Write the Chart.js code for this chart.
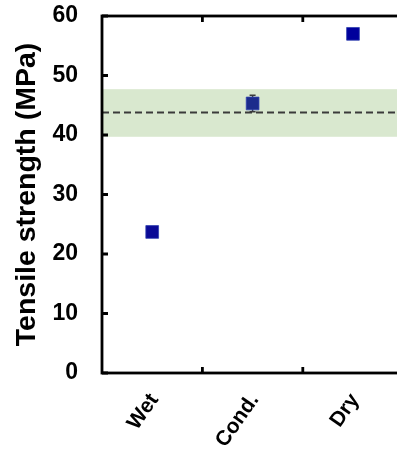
<!DOCTYPE html>
<html>
<head>
<meta charset="utf-8">
<script src="https://cdn.jsdelivr.net/npm/chart.js@4/dist/chart.umd.min.js"></script>
<style>
html,body{margin:0;padding:0;background:#fff;overflow:hidden;width:397px;height:455px;}
#wrap{position:absolute;left:0;top:0;width:413px;height:455px;}
</style>
</head>
<body>
<div id="wrap"><canvas id="c" width="413" height="455"></canvas></div>
<script>
// Data
const categories = ['Wet', 'Cond.', 'Dry'];
const strength = [23.7, 45.3, 57.0];
const strengthErr = [0.5, 1.4, 0.5];
const pointColors = ['#0a0a96', '#1c2b8c', '#00009c'];
const bandRange = [39.7, 47.7];
const refLine = [43.8];
const yTicks = [0, 10, 20, 30, 40, 50, 60];

const framePlugin = {
  id: 'frame',
  beforeDatasetsDraw(chart) {
    const {ctx, chartArea: a, scales: {y}} = chart;
    ctx.save();
    const yTop = y.getPixelForValue(bandRange[1]);
    const yBot = y.getPixelForValue(bandRange[0]);
    ctx.fillStyle = '#d9e8cf';
    ctx.fillRect(a.left, yTop, a.right - a.left, yBot - yTop);
    ctx.strokeStyle = '#3a3a3a';
    ctx.lineWidth = 2;
    ctx.setLineDash([7, 4]);
    const yl = y.getPixelForValue(refLine[0]);
    ctx.beginPath();
    ctx.moveTo(a.left, yl);
    ctx.lineTo(a.right, yl);
    ctx.stroke();
    ctx.setLineDash([]);
    const meta = chart.getDatasetMeta(0);
    ctx.strokeStyle = '#3a3a3a';
    ctx.lineWidth = 1.5;
    meta.data.forEach((pt, i) => {
      const yh = y.getPixelForValue(strength[i] + strengthErr[i]);
      const ylo = y.getPixelForValue(strength[i] - strengthErr[i]);
      ctx.beginPath();
      ctx.moveTo(pt.x, yh); ctx.lineTo(pt.x, ylo);
      ctx.moveTo(pt.x - 3, yh); ctx.lineTo(pt.x + 3, yh);
      ctx.moveTo(pt.x - 3, ylo); ctx.lineTo(pt.x + 3, ylo);
      ctx.stroke();
    });
    ctx.restore();
  },
  afterDraw(chart) {
    const {ctx, chartArea: a, scales: {x, y}} = chart;
    ctx.save();
    ctx.strokeStyle = '#000';
    ctx.lineWidth = 2.8;
    ctx.strokeRect(a.left, a.top, a.right - a.left, a.bottom - a.top);
    const tl = 6;
    ctx.beginPath();
    yTicks.forEach(v => {
      const py = y.getPixelForValue(v);
      ctx.moveTo(a.left, py); ctx.lineTo(a.left + tl, py);
      ctx.moveTo(a.right, py); ctx.lineTo(a.right - tl, py);
    });
    for (let i = 1; i < categories.length; i++) {
      const px = (x.getPixelForValue(i - 1) + x.getPixelForValue(i)) / 2;
      ctx.moveTo(px, a.bottom); ctx.lineTo(px, a.bottom - tl);
      ctx.moveTo(px, a.top); ctx.lineTo(px, a.top + tl);
    }
    ctx.stroke();
    ctx.restore();
  }
};

new Chart(document.getElementById('c'), {
  type: 'line',
  data: {
    labels: categories,
    datasets: [{
      data: strength,
      showLine: false,
      pointStyle: 'rect',
      pointRadius: 9,
      pointHoverRadius: 9,
      pointBackgroundColor: pointColors,
      pointBorderColor: '#3040b0',
      pointBorderWidth: 0.8
    }]
  },
  options: {
    responsive: false,
    animation: false,
    events: [],
    layout: {padding: {top: 16, right: 0, left: 0, bottom: 0}},
    plugins: {legend: {display: false}, tooltip: {enabled: false}},
    scales: {
      x: {
        type: 'category',
        offset: true,
        grid: {display: false, drawTicks: false},
        border: {display: false},
        ticks: {
          minRotation: 55, maxRotation: 55,
          padding: 16,
          labelOffset: 2,
          color: '#000',
          font: {family: 'Liberation Sans, Arial, sans-serif', size: 21, weight: 'bold'}
        },
        afterFit(s) { s.height = 82; }
      },
      y: {
        min: 0, max: 60,
        grid: {display: false, drawTicks: false},
        border: {display: false},
        ticks: {
          stepSize: 10,
          padding: 24,
          color: '#000',
          font: {family: 'Liberation Sans, Arial, sans-serif', size: 23, weight: 'bold'}
        },
        title: {
          display: true,
          text: 'Tensile strength (MPa)',
          color: '#000',
          padding: {top: 10, bottom: 0},
          font: {family: 'Liberation Sans, Arial, sans-serif', size: 28.5, weight: 'bold'}
        },
        afterFit(s) { s.width = 102; s.paddingTop = 0; s.paddingBottom = 0; }
      }
    }
  },
  plugins: [framePlugin]
});
</script>
</body>
</html>
